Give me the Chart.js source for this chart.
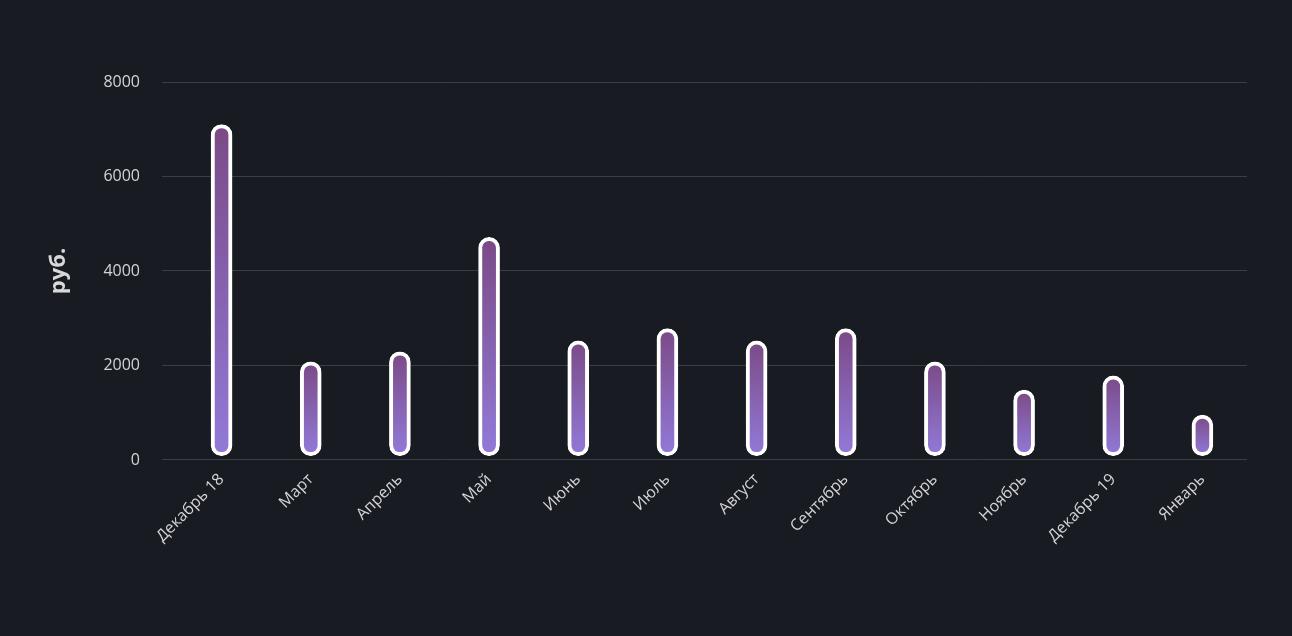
<!DOCTYPE html>
<html>
<head>
<meta charset="utf-8">
<script src="https://cdn.jsdelivr.net/npm/chart.js@4"></script>
<style>
    html, body { margin: 0; padding: 0; background: #181c22; }
    #wrap { width: 1292px; height: 636px; position: relative; }
</style>
</head>
<body>
<div id="wrap"><canvas id="spendChart"></canvas></div>
<script>
const months = ["Декабрь 18", "Март", "Апрель", "Май", "Июнь", "Июль", "Август", "Сентябрь", "Октябрь", "Ноябрь", "Декабрь 19", "Январь"];
const amounts = [7100, 2080, 2290, 4710, 2520, 2780, 2520, 2780, 2080, 1480, 1780, 950];
const barBase = 90;
const yTicks = [0, 2000, 4000, 6000, 8000];

// bars float a little above zero, like in the picture
const barData = amounts.map(v => [barBase, v]);

function barGradient(context) {
    const chart = context.chart;
    const yScale = chart.scales.y;
    const raw = context.raw;
    if (!yScale || !raw) return '#8a68c0';
    const top = yScale.getPixelForValue(raw[1]);
    const bottom = yScale.getPixelForValue(raw[0]);
    if (!isFinite(top) || !isFinite(bottom) || top === bottom) return '#8a68c0';
    const g = chart.ctx.createLinearGradient(0, top, 0, bottom);
    g.addColorStop(0, '#7b4a86');
    g.addColorStop(1, '#927ad9');
    return g;
}

const ctx = document.getElementById("spendChart").getContext("2d");
new Chart(ctx, {
    type: 'bar',
    data: {
        labels: months,
        datasets: [{
            data: barData,
            backgroundColor: barGradient,
            borderColor: '#ffffff',
            borderWidth: 4,
            borderRadius: 20,
            borderSkipped: false,
            barThickness: 21
        }]
    },
    options: {
        responsive: true,
        maintainAspectRatio: false,
        animation: false,
        layout: { padding: { left: 42, right: 45, top: 82, bottom: 80 } },
        plugins: {
            legend: { display: false },
            tooltip: { enabled: false }
        },
        scales: {
            x: {
                grid: { display: false, drawTicks: false },
                border: { display: false },
                ticks: {
                    color: '#d4d4d4',
                    font: { family: 'Open Sans', size: 16 },
                    minRotation: 45,
                    maxRotation: 45,
                    padding: 10
                }
            },
            y: {
                min: 0,
                max: 8000,
                afterBuildTicks: axis => { axis.ticks = yTicks.map(v => ({ value: v })); },
                grid: { color: '#3b3e44', lineWidth: 1, tickLength: 15 },
                border: { display: false },
                ticks: {
                    color: '#d4d4d4',
                    font: { family: 'Open Sans', size: 16 },
                    padding: 22,
                    callback: v => String(v)
                },
                title: {
                    display: true,
                    text: 'руб.',
                    color: '#d8d8d8',
                    font: { family: 'Open Sans', size: 22, weight: 'bold' },
                    padding: { bottom: 9 }
                }
            }
        }
    }
});
</script>
</body>
</html>
